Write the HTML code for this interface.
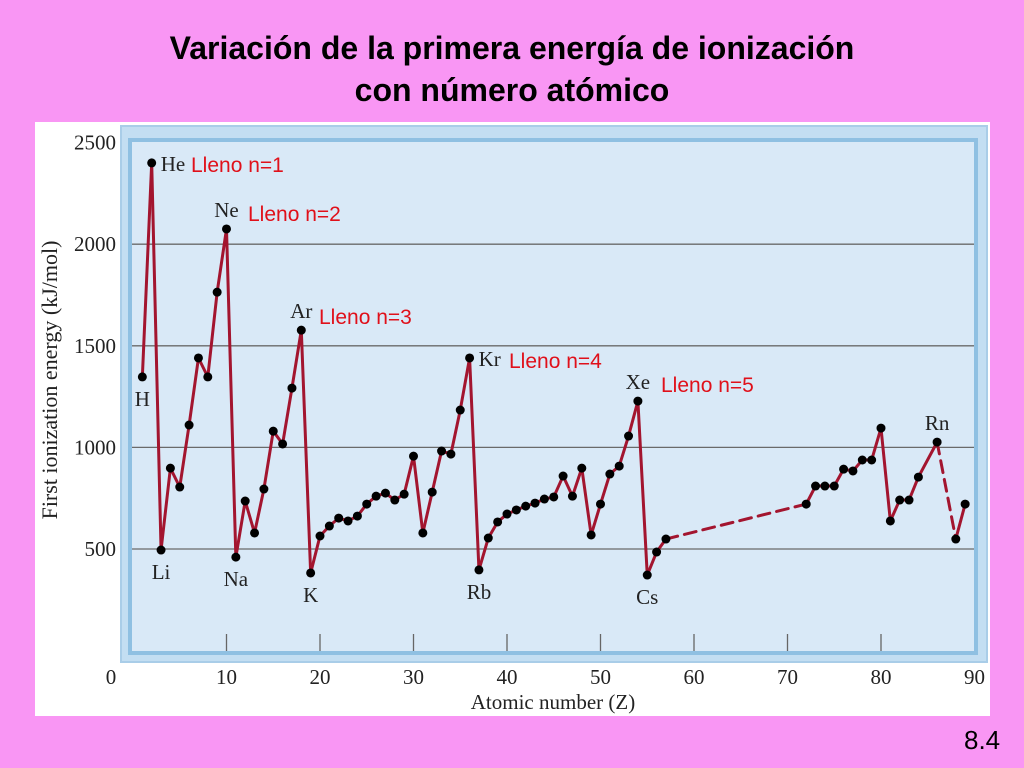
<!DOCTYPE html>
<html><head><meta charset="utf-8"><style>
body{margin:0;width:1024px;height:768px;background:#f996f4;overflow:hidden;font-family:"Liberation Sans",sans-serif}
#title{position:absolute;left:0;width:1024px;top:27px;text-align:center;font-weight:bold;font-size:32px;line-height:42px;color:#000}
#pnum{position:absolute;left:964px;top:725px;font-size:26px;color:#000}
svg{position:absolute;left:0;top:0}
</style></head><body>
<div id="title">Variación de la primera energía de ionización<br>con número atómico</div>
<div id="pnum">8.4</div>
<svg id="chart" width="1024" height="768"></svg>
<script>
const zValues=[1,2,3,4,5,6,7,8,9,10,11,12,13,14,15,16,17,18,19,20,21,22,23,24,25,26,27,28,29,30,31,32,33,34,35,36,37,38,39,40,41,42,43,44,45,46,47,48,49,50,51,52,53,54,55,56,57,72,73,74,75,76,77,78,79,80,81,82,83,84,86,88,89];
const energies=[1347,2400,495,898,805,1110,1440,1347,1764,2075,460,736,579,795,1080,1017,1292,1577,382,564,613,652,638,662,721,760,775,741,770,957,579,780,982,967,1184,1440,397,554,633,672,692,711,726,746,756,859,760,898,569,721,869,908,1056,1228,372,485,549,721,810,810,810,893,884,938,938,1095,638,741,741,854,1026,549,721];
const dashedAfterZ=[57,86];
const yTicks=[500,1000,1500,2000,2500];
const xTicks=[0,10,20,30,40,50,60,70,80,90];
const elemLabels=[["H",1,"below"],["He",2,"right"],["Li",3,"below"],["Ne",10,"above"],["Na",11,"below"],["Ar",18,"above"],["K",19,"below"],["Kr",36,"right"],["Rb",37,"below"],["Xe",54,"above"],["Cs",55,"below"],["Rn",86,"above"]];
const fillLabels=[["Lleno n=1",2],["Lleno n=2",10],["Lleno n=3",18],["Lleno n=4",36],["Lleno n=5",54]];

const X=z=>133+9.35*z, Y=v=>650.6-0.2032*v;
const svg=document.getElementById('chart'),NS='http://www.w3.org/2000/svg';
function mk(t,a,p){const e=document.createElementNS(NS,t);for(const k in a)e.setAttribute(k,a[k]);(p||svg).appendChild(e);return e;}
let e;
e=mk('rect',{x:35,y:122,width:955,height:594,fill:'#ffffff'});


e=mk('rect',{x:121,y:126,width:866,height:536,fill:'#c3def2',stroke:'#a9cde8','stroke-width':2});


e=mk('rect',{x:130,y:140,width:846,height:513,fill:'#d9e9f7',stroke:'#8fc0e2','stroke-width':4});


yTicks.forEach(v=>{
  if(v<2500){e=mk('line',{x1:132,x2:974,y1:Y(v),y2:Y(v),stroke:'#6a6a6a','stroke-width':1.3});
  
  }
  e=mk('text',{x:116,y:Y(v)+7,'text-anchor':'end','font-family':'Liberation Serif, serif','font-size':21,fill:'#222'});
  e.textContent=v;
  
  
});
xTicks.forEach(z=>{
  if(z>0&&z<90){e=mk('line',{x1:X(z),x2:X(z),y1:634,y2:651,stroke:'#666','stroke-width':1.3});
  
  }
  e=mk('text',{x:X(z)-(z==0?22:0),y:684,'text-anchor':'middle','font-family':'Liberation Serif, serif','font-size':21,fill:'#222'});
  e.textContent=z;
  
  
});
e=mk('text',{x:553,y:709,'text-anchor':'middle','font-family':'Liberation Serif, serif','font-size':21,fill:'#222'});
e.textContent='Atomic number (Z)';


e=mk('text',{x:0,y:0,'text-anchor':'middle','font-family':'Liberation Serif, serif','font-size':22,fill:'#222',transform:'translate(57,380) rotate(-90)'});
e.textContent='First ionization energy (kJ/mol)';


for(let i=1;i<zValues.length;i++){
  const dashed=dashedAfterZ.includes(zValues[i-1]);
  e=mk('line',{x1:X(zValues[i-1]),y1:Y(energies[i-1]),x2:X(zValues[i]),y2:Y(energies[i]),stroke:'#a3152f','stroke-width':3,'stroke-dasharray':dashed?'12,7':'none','stroke-linecap':'round'});
  
  
}
zValues.forEach((z,i)=>{
  e=mk('circle',{cx:X(z),cy:Y(energies[i]),r:4.5,fill:'#000'});
  
  
});
elemLabels.forEach(([s,z,pos])=>{
  const v=energies[zValues.indexOf(z)];let x=X(z),y=Y(v),a='middle';
  if(pos=='below')y+=29;else if(pos=='above')y-=12;else{x+=9;y+=8;a='start';}
  e=mk('text',{x:x,y:y,'text-anchor':a,'font-family':'Liberation Serif, serif','font-size':21,fill:'#222'});
  e.textContent=s;
  
  
});
const fillPos={2:[191,172],10:[248,221],18:[319,324],36:[509,368],54:[661,392]};
fillLabels.forEach(([t,z])=>{
  const p=fillPos[z];
  e=mk('text',{x:p[0],y:p[1],'font-family':'Liberation Sans, sans-serif','font-size':21,fill:'#e0101a'});
  e.textContent=t;
  
  
});
</script>
</body></html>
